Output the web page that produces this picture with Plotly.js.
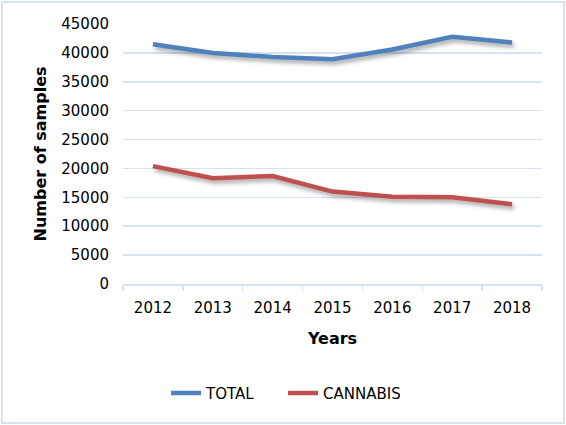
<!DOCTYPE html>
<html>
<head>
<meta charset="utf-8">
<script src="https://cdn.plot.ly/plotly-3.0.1.min.js"></script>
<style>
html,body{margin:0;padding:0;background:#fff;}
#chart{width:566px;height:425px;}
.scatterlayer .trace path.js-line{filter:drop-shadow(2px 3px 2px rgba(0,0,0,0.35));}
</style>
</head>
<body>
<div id="chart"></div>
<script>
var years = ["2012","2013","2014","2015","2016","2017","2018"];
var totalSamples = [41500, 40000, 39300, 38900, 40600, 42800, 41800];
var cannabisSamples = [20400, 18300, 18700, 16000, 15100, 15000, 13800];
var yTicks = [0,5000,10000,15000,20000,25000,30000,35000,40000,45000];

var fontFam = "DejaVu Sans, sans-serif";
var grid = "#D6E1F1";

var traces = [
  {x: years, y: totalSamples, name: "TOTAL", type: "scatter", mode: "lines",
   line: {color: "#4F81BD", width: 4.5}},
  {x: years, y: cannabisSamples, name: "CANNABIS", type: "scatter", mode: "lines",
   line: {color: "#C0504D", width: 4.5}}
];

var layout = {
  width: 566, height: 425,
  margin: {l: 123, r: 24, t: 24, b: 141},
  paper_bgcolor: "#fff", plot_bgcolor: "#fff",
  font: {family: fontFam, size: 15, color: "#000"},
  showlegend: true,
  legend: {orientation: "h", x: 0.382, xanchor: "center", y: -0.42, yanchor: "middle",
           xref: "paper", entrywidth: 72, entrywidthmode: "pixels",
           font: {family: fontFam, size: 15, color: "#000"}},
  xaxis: {
    type: "category",
    range: [-0.5, 6.5],
    showgrid: false, zeroline: false,
    showline: true, linecolor: grid, linewidth: 1.5,
    ticks: "outside", tickson: "boundaries", ticklen: 5, tickcolor: grid, tickwidth: 1.5,
    tickfont: {family: fontFam, size: 15},
    ticklabelstandoff: 9,
    title: {text: "<b>Years</b>", font: {family: fontFam, size: 16}, standoff: 17}
  },
  yaxis: {
    range: [0, 45000],
    tickvals: yTicks,
    ticktext: yTicks.map(String),
    showgrid: true, gridcolor: grid, gridwidth: 1.5,
    zeroline: false, showline: false, ticks: "",
    tickfont: {family: fontFam, size: 15},
    ticklabelstandoff: 13,
    title: {text: "<b>Number of samples</b>", font: {family: fontFam, size: 16}, standoff: 10}
  },
  shapes: [
    {type: "rect", xref: "paper", yref: "paper", x0: -0.289, x1: 1.0525, y0: -0.5346, y1: 1.0846,
     line: {color: "#D6E1F1", width: 2}, fillcolor: "rgba(0,0,0,0)"}
  ]
};

Plotly.newPlot("chart", traces, layout, {displayModeBar: false, staticPlot: true});
</script>
</body>
</html>
